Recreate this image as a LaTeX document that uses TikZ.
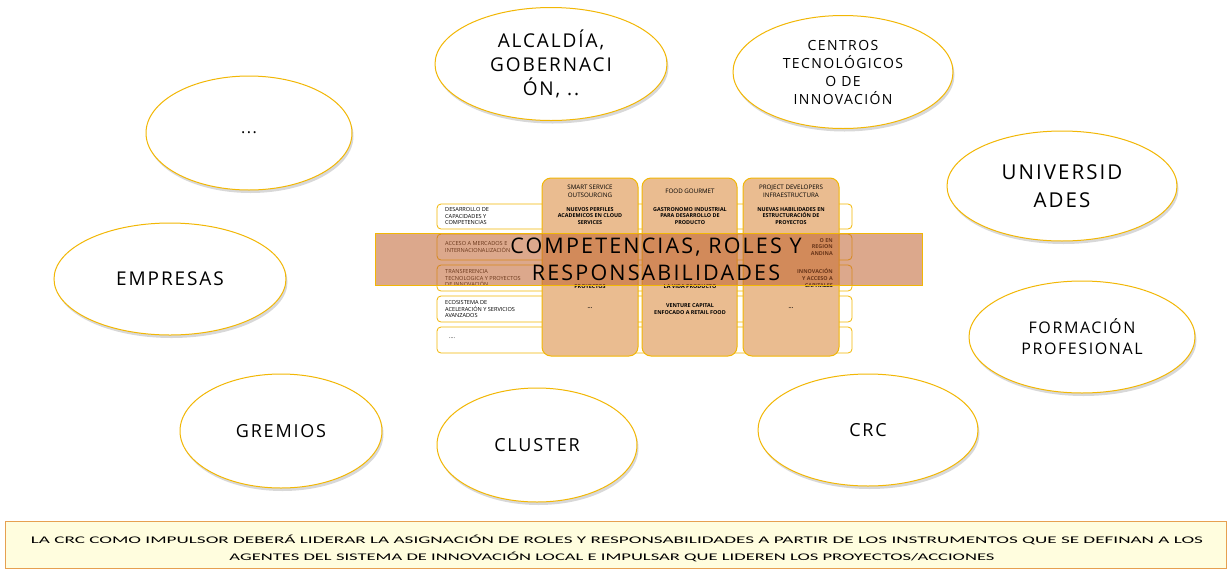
\documentclass[tikz,border=0pt]{standalone}
\usepackage{fontspec}
\setmainfont{Open Sans}
\newfontfamily\ef[LetterSpace=10]{Open Sans}
\newfontfamily\tf{Open Sans}
\newfontfamily\notefont{Carlito}
\usetikzlibrary{shapes.geometric,shadows}
\definecolor{gold}{RGB}{242,183,5}
\definecolor{coltan}{RGB}{234,188,144}
\definecolor{bannerc}{RGB}{192,98,47}
\definecolor{notefill}{RGB}{255,253,222}
\definecolor{noteline}{RGB}{230,160,80}
\begin{document}
\begin{tikzpicture}[x=1pt,y=-1pt,
  actor/.style={ellipse,draw=gold,line width=1pt,fill=white,inner sep=0pt,align=center,
    drop shadow={opacity=0.3,shadow xshift=1.5pt,shadow yshift=-3pt}},
  rowbox/.style={draw=gold,line width=0.8pt,rounded corners=4pt,fill=white},
  colbox/.style={draw=gold,line width=1pt,rounded corners=9pt,fill=coltan},
  lbl/.style={font=\tf\fontsize{5.6}{6.6}\selectfont,align=left,anchor=west,inner sep=0pt},
  cell/.style={font=\tf\bfseries\fontsize{5.4}{6.6}\selectfont,align=center,inner sep=0pt},
  hdr/.style={font=\tf\fontsize{6.2}{7.8}\selectfont,align=center,inner sep=0pt}]
\useasboundingbox (0,0) rectangle (1232,571);
\fill[white] (0,0) rectangle (1232,571);

% actors
\node[actor,minimum width=206,minimum height=114,font=\ef\fontsize{16}{20}\selectfont] (etc) at (249,133) {...};
\node[actor,minimum width=232,minimum height=113,font=\ef\fontsize{19}{24}\selectfont] (alc) at (551,64) {ALCALDÍA,\\ GOBERNACI\\ ÓN, ..};
\node[actor,minimum width=220,minimum height=113,font=\ef\fontsize{14}{18}\selectfont] (cen) at (843,72) {CENTROS\\ TECNOLÓGICOS\\ O DE\\ INNOVACIÓN};
\node[actor,minimum width=230,minimum height=110,font=\ef\fontsize{20.5}{28}\selectfont] (uni) at (1062,186) {UNIVERSID\\ ADES};
\node[actor,minimum width=226,minimum height=112,font=\ef\fontsize{16}{21}\selectfont] (for) at (1082,337) {FORMACIÓN\\ PROFESIONAL};
\node[actor,minimum width=232,minimum height=112,font=\ef\fontsize{19}{22}\selectfont] (emp) at (170,279) {EMPRESAS};
\node[actor,minimum width=202,minimum height=114,font=\ef\fontsize{18}{22}\selectfont] (gre) at (281,431) {GREMIOS};
\node[actor,minimum width=200,minimum height=114,font=\ef\fontsize{18}{22}\selectfont] (clu) at (537,445) {CLUSTER};
\node[actor,minimum width=220,minimum height=112,font=\ef\fontsize{18}{22}\selectfont] (crc) at (868,430) {CRC};

% table rows
\draw[rowbox] (437,204) rectangle (852,229);
\draw[rowbox] (437,234) rectangle (852,260);
\draw[rowbox] (437,265) rectangle (852,291);
\draw[rowbox] (437,296) rectangle (852,322);
\draw[rowbox] (437,327) rectangle (852,353);

% columns
\draw[colbox] (542,178) rectangle (638,356);
\draw[colbox] (642,178) rectangle (737,356);
\draw[colbox] (743,178) rectangle (839,356);

% headers
\node[hdr] (h1) at (590,191) {SMART SERVICE\\ OUTSOURCING};
\node[hdr] (h2) at (690,191) {FOOD GOURMET};
\node[hdr] (h3) at (791,191) {PROJECT DEVELOPERS\\ INFRAESTRUCTURA};

% row labels
\node[lbl] (r1) at (445,216) {DESARROLLO DE\\ CAPACIDADES Y\\ COMPETENCIAS};
\node[lbl] (r2) at (445,247) {ACCESO A MERCADOS E\\ INTERNACIONALIZACIÓN};
\node[lbl] (r3) at (445,278) {TRANSFERENCIA\\ TECNOLOGICA Y PROYECTOS\\ DE INNOVACIÓN};
\node[lbl] (r4) at (445,309) {ECOSISTEMA DE\\ ACELERACIÓN Y SERVICIOS\\ AVANZADOS};
\node[lbl] (r5) at (449,338) {....};

% cells
\node[cell] (c11) at (590,216) {NUEVOS PERFILES\\ ACADEMICOS EN CLOUD\\ SERVICES};
\node[cell] (c12) at (690,216) {GASTRONOMO INDUSTRIAL\\ PARA DESARROLLO DE\\ PRODUCTO};
\node[cell] (c13) at (791,216) {NUEVAS HABILIDADES EN\\ ESTRUCTURACIÓN DE\\ PROYECTOS};
\node[cell,align=right,anchor=east] (c23) at (833,247) {O EN\\ REGION\\ ANDINA};
\node[cell] (c31) at (590,287) {PROYECTOS};
\node[cell] (c32) at (690,287) {LA VIDA PRODUCTO};
\node[cell,align=right,anchor=east] (c33) at (833,278) {INNOVACIÓN\\ Y ACCESO A\\ CAPITALES};
\node[cell] (c41) at (590,308) {...};
\node[cell] (c42) at (690,309) {VENTURE CAPITAL\\ ENFOCADO A RETAIL FOOD};
\node[cell] (c43) at (791,308) {...};

% banner
\draw[draw=gold,line width=1pt,fill=bannerc,fill opacity=0.55] (375,233) rectangle (922,285);
\node[inner sep=0pt,align=center,font=\ef\fontsize{21.5}{27}\selectfont] (ban) at (656,259.5) {COMPETENCIAS, ROLES Y\\ RESPONSABILIDADES};

% note
\draw[draw=noteline,line width=1pt,fill=notefill] (5,521) rectangle (1226,568);
\node[inner sep=0pt] (n1) at (617,540) {\resizebox{1172pt}{8.5pt}{\notefont LA CRC COMO IMPULSOR DEBERÁ LIDERAR LA ASIGNACIÓN DE ROLES Y RESPONSABILIDADES A PARTIR DE LOS INSTRUMENTOS QUE SE DEFINAN A LOS}};
\node[inner sep=0pt] (n2) at (612,557) {\resizebox{765pt}{8.5pt}{\notefont AGENTES DEL SISTEMA DE INNOVACIÓN LOCAL E IMPULSAR QUE LIDEREN LOS PROYECTOS/ACCIONES}};
\end{tikzpicture}
\end{document}
